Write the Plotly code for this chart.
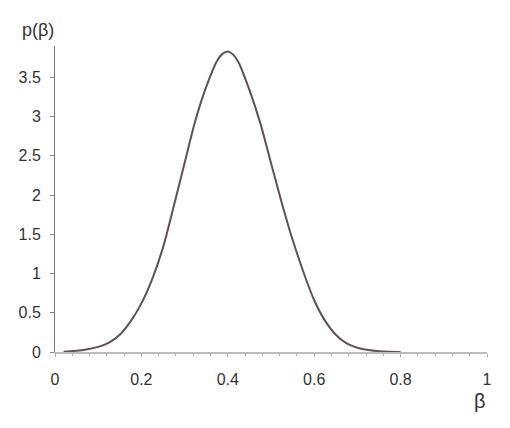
import plotly.graph_objects as go

beta = [0.02, 0.025, 0.05, 0.075, 0.1, 0.125, 0.15, 0.175, 0.2, 0.225, 0.25, 0.275,
        0.3, 0.325, 0.35, 0.375, 0.3875, 0.4, 0.4125, 0.425, 0.45, 0.475, 0.5, 0.525, 0.55,
        0.575, 0.6, 0.625, 0.65, 0.675, 0.7, 0.725, 0.75, 0.775, 0.8]
p_beta = [0.0, 0.005, 0.015, 0.035, 0.065, 0.12, 0.22, 0.39, 0.62, 0.93, 1.33, 1.86,
          2.41, 2.95, 3.38, 3.71, 3.80, 3.83, 3.79, 3.69, 3.34, 2.92, 2.41, 1.90, 1.43,
          1.02, 0.66, 0.40, 0.22, 0.11, 0.055, 0.025, 0.01, 0.003, 0.0]

x_ticks = [0, 0.2, 0.4, 0.6, 0.8, 1]
x_tick_text = ["0", "0.2", "0.4", "0.6", "0.8", "1"]
y_ticks = [0, 0.5, 1, 1.5, 2, 2.5, 3, 3.5]
y_tick_text = ["0", "0.5", "1", "1.5", "2", "2.5", "3", "3.5"]

L, R, T, B = 55, 23, 46, 76
W, H = 510, 428

fig = go.Figure()
fig.add_trace(go.Scatter(x=beta, y=p_beta, mode="lines",
                         line=dict(color="#5e5252", width=2, shape="spline", smoothing=0.8),
                         hoverinfo="skip"))

font = dict(family="Liberation Sans, Arial, sans-serif", size=16, color="#333333")

fig.update_layout(
    width=W, height=H,
    margin=dict(l=L, r=R, t=T, b=B, autoexpand=False),
    paper_bgcolor="white", plot_bgcolor="white",
    showlegend=False,
    font=font,
    xaxis=dict(range=[0, 1], tickvals=x_ticks, ticktext=x_tick_text,
               showgrid=False, zeroline=False, automargin=False,
               showline=True, linecolor="#bbbbbb", linewidth=2,
               ticks="outside", ticklen=3, tickcolor="#aaaaaa", tickwidth=1,
               minor=dict(dtick=0.04, tick0=0, ticks="outside", ticklen=2,
                          tickcolor="#aaaaaa", showgrid=False),
               tickfont=font, ticklabelstandoff=9, fixedrange=True),
    yaxis=dict(range=[0, 3.9], tickvals=y_ticks, ticktext=y_tick_text,
               showgrid=False, zeroline=False, automargin=False,
               showline=True, linecolor="#777777", linewidth=1,
               ticks="outside", ticklen=4, tickcolor="#888888", tickwidth=1,
               tickfont=font, ticklabelstandoff=6, fixedrange=True),
)

pw = W - L - R
ph = H - T - B

def ann(text, px, py, size):
    return dict(text=text, x=(px - L) / pw, y=(H - B - py) / ph,
                xref="paper", yref="paper", xanchor="center", yanchor="middle",
                showarrow=False,
                font=dict(family="Liberation Sans, Arial, sans-serif", size=size, color="#333333"))

fig.update_layout(annotations=[ann("p(β)", 38, 30, 18), ann("β", 480, 401, 20)])

fig.write_html("out.html", config={"displayModeBar": False},
               post_script="document.body.style.margin='0';document.body.style.overflow='hidden';")
